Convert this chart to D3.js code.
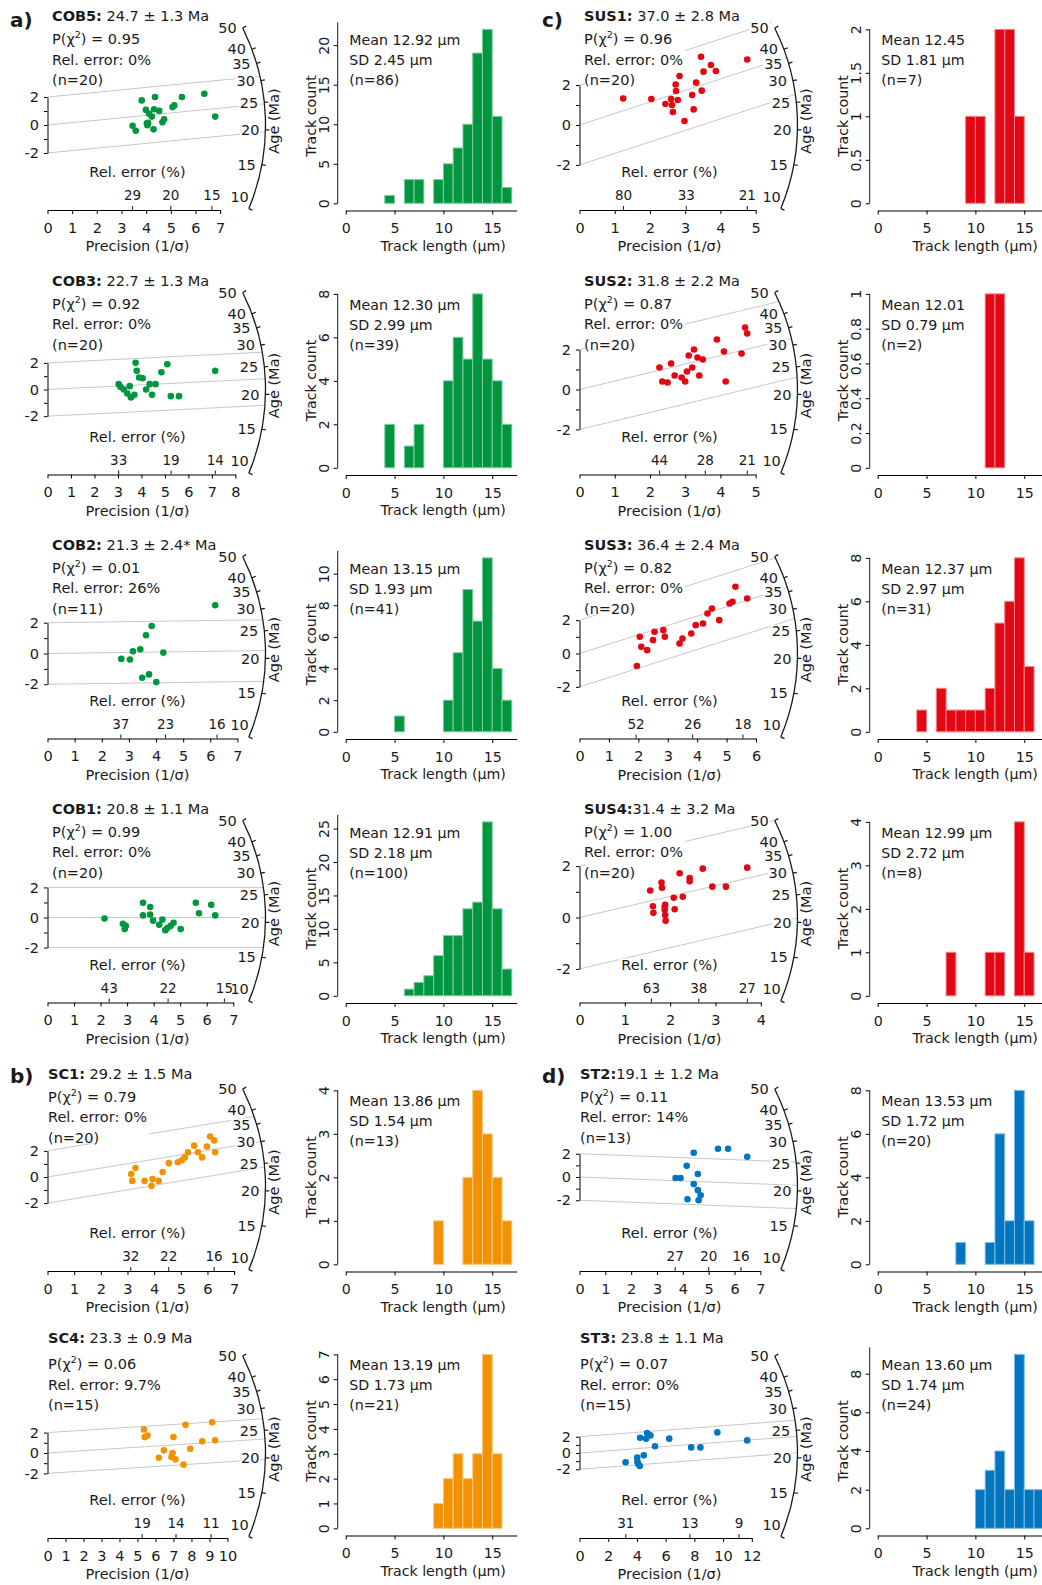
<!DOCTYPE html>
<html>
<head>
<meta charset="utf-8">
<script src="https://cdn.jsdelivr.net/npm/d3@7"></script>
<style>
  body { margin: 0; background: #fff; }
  svg text { font-family: "DejaVu Sans", sans-serif; fill: #1a1a1a; }
</style>
</head>
<body>
<svg id="chart" width="1042" height="1585"></svg>
<script>
// ---------------- data ----------------
var sampleNames = ["COB5", "COB3", "COB2", "COB1", "SC1", "SC4", "SUS1", "SUS2", "SUS3", "SUS4", "ST2", "ST3"];
var ageLabels = [" 24.7 ± 1.3 Ma", " 22.7 ± 1.3 Ma", " 21.3 ± 2.4* Ma", " 20.8 ± 1.1 Ma", " 29.2 ± 1.5 Ma", " 23.3 ± 0.9 Ma",
                 " 37.0 ± 2.8 Ma", " 31.8 ± 2.2 Ma", " 36.4 ± 2.4 Ma", "31.4 ± 3.2 Ma", "19.1 ± 1.2 Ma", " 23.8 ± 1.1 Ma"];
var centralAges = [24.7, 22.7, 21.3, 20.8, 29.2, 23.3, 37.0, 31.8, 36.4, 31.4, 19.1, 23.8];
var pChi2 = ["0.95", "0.92", "0.01", "0.99", "0.79", "0.06", "0.96", "0.87", "0.82", "1.00", "0.11", "0.07"];
var relErrors = ["0%", "0%", "26%", "0%", "0%", "9.7%", "0%", "0%", "0%", "0%", "14%", "0%"];
var grainCounts = [20, 20, 11, 20, 20, 15, 20, 20, 20, 20, 13, 15];
var relErrorTicks = [[29, 20, 15], [33, 19, 14], [37, 23, 16], [43, 22, 15], [32, 22, 16], [19, 14, 11],
                     [80, 33, 21], [44, 28, 21], [52, 26, 18], [63, 38, 27], [27, 20, 16], [31, 13, 9]];
var precisionMax = [7, 8, 7, 7, 7, 10, 5, 5, 6, 4, 7, 12];
var precisionStep = [1, 1, 1, 1, 1, 1, 1, 1, 1, 1, 1, 2];
var ageTicks = [10, 15, 20, 25, 30, 35, 40, 50];

// radial plot points: [precision (1/sigma), standardised estimate]
var pointsCOB5 = [[3.45,-0.05],[3.58,-0.41],[3.82,1.76],[3.99,1.08],[4.03,0.12],[4.05,-0.02],[4.12,0.80],[4.23,0.60],
  [4.30,-0.31],[4.32,1.13],[4.36,2.0],[4.53,1.01],[4.66,0.19],[4.73,0.41],[5.07,1.28],[5.14,1.40],[5.45,2.0],
  [6.36,2.24],[6.80,0.60],[4.08,0.15]];
var pointsCOB3 = [[3.03,0.4],[3.1,0.2],[3.25,0.0],[3.4,-0.3],[3.5,0.25],[3.55,-0.6],[3.7,-0.4],[3.75,2.0],[3.8,1.4],
  [3.9,0.9],[4.05,0.85],[4.2,0.0],[4.35,0.4],[4.45,-0.4],[4.6,0.4],[4.85,1.3],[5.1,1.9],[5.25,-0.5],[5.6,-0.5],[7.14,1.4]];
var pointsCOB2 = [[2.72,-0.35],[3.04,-0.39],[3.15,0.15],[3.42,0.28],[3.49,-1.58],[3.63,1.19],[3.74,-1.36],[3.84,1.79],
  [4.01,-1.86],[4.27,0.06],[6.18,3.14]];
var pointsCOB1 = [[2.15,-0.07],[2.84,-0.42],[2.91,-0.77],[2.95,-0.56],[3.6,0.98],[3.6,0.14],[3.87,0.7],[3.98,-0.21],
  [4.21,-0.49],[4.33,-0.14],[4.44,-0.84],[4.64,-0.56],[4.75,-0.35],[5.02,-0.77],[5.59,0.98],[5.71,0.28],[6.17,0.84],
  [6.32,0.14],[3.87,0.2],[4.52,-0.7]];
var pointsSC1 = [[3.14,0.23],[3.18,-0.3],[3.3,0.68],[3.64,-0.3],[3.9,-0.68],[3.94,-0.15],[4.17,-0.3],[4.32,0.38],
  [4.55,1.06],[4.89,1.13],[5.04,1.28],[5.15,1.5],[5.27,1.9],[5.5,2.4],[5.64,1.9],[5.8,1.5],[5.98,2.34],[6.1,3.1],
  [6.25,2.8],[6.29,1.9]];
var pointsSC4 = [[5.36,2.31],[5.40,1.56],[5.56,1.72],[6.19,-0.46],[6.47,0.26],[6.89,-0.39],[6.95,0.0],[7.00,1.56],
  [7.11,-0.62],[7.56,-1.14],[7.67,2.76],[7.93,0.42],[8.60,1.14],[9.15,3.02],[9.32,1.24]];
var pointsSUS1 = [[1.24,1.33],[2.04,1.30],[2.44,1.05],[2.60,1.30],[2.63,1.0],[2.65,0.65],[2.73,2.03],[2.74,1.70],
  [2.79,1.25],[2.84,2.45],[2.98,0.20],[3.20,1.50],[3.24,0.78],[3.31,2.12],[3.45,3.42],[3.47,1.72],[3.52,2.67],
  [3.73,3.0],[3.87,2.70],[4.76,3.28]];
var pointsSUS2 = [[2.27,1.1],[2.35,0.4],[2.5,0.35],[2.6,1.3],[2.7,0.7],[2.9,0.6],[3.0,0.4],[3.05,0.9],[3.1,1.7],
  [3.2,1.1],[3.25,2.0],[3.35,1.6],[3.4,0.7],[3.5,1.5],[3.9,2.5],[4.1,1.9],[4.15,0.4],[4.6,1.8],[4.7,3.1],[4.76,2.8]];
var pointsSUS3 = [[1.95,-0.75],[2.1,0.4],[2.05,1.0],[2.3,0.2],[2.5,0.8],[2.55,1.3],[2.85,1.4],[2.9,1.0],[3.4,0.6],
  [3.5,0.9],[3.8,1.2],[3.95,1.7],[4.2,1.8],[4.35,2.4],[4.5,2.7],[4.75,2.0],[5.1,3.0],[5.3,4.0],[5.2,3.1],[5.7,3.3]];
var pointsSUS4 = [[1.56,1.05],[1.62,0.44],[1.63,0.18],[1.81,1.36],[1.82,1.16],[1.88,0.42],[1.88,0.30],[1.89,0.10],
  [1.90,-0.13],[1.89,0.49],[2.08,0.77],[2.10,0.32],[2.21,1.72],[2.28,0.81],[2.43,1.54],[2.43,1.41],[2.72,1.90],
  [2.93,1.20],[3.23,1.20],[3.70,1.94]];
var pointsST2 = [[4.42,2.09],[5.36,2.43],[5.75,2.43],[6.49,1.74],[4.15,0.96],[3.72,-0.09],[3.91,-0.09],[4.58,0.26],
  [4.42,-0.61],[4.58,-1.13],[4.69,-1.57],[4.18,-1.91],[4.61,-2.0]];
var pointsST3 = [[3.21,-1.14],[4.02,-0.57],[4.04,-1.10],[4.08,-1.31],[4.20,-1.59],[4.22,1.88],[4.48,-0.29],[4.64,1.76],
  [4.71,2.45],[4.94,2.16],[5.26,0.82],[6.25,1.76],[7.78,0.69],[8.42,0.69],[9.60,2.53],[11.68,1.55]];

// track length histograms: [bin start (um), count], 1 um bins
var histCOB5 = [[4,1],[6,3],[7,3],[9,3],[10,5],[11,7],[12,10],[13,19],[14,22],[15,11],[16,2]];
var histCOB3 = [[4,2],[6,1],[7,2],[10,4],[11,6],[12,5],[13,8],[14,5],[15,4],[16,2]];
var histCOB2 = [[5,1],[10,2],[11,5],[12,9],[13,7],[14,11],[15,4],[16,2]];
var histCOB1 = [[6,1],[7,2],[8,3],[9,6],[10,9],[11,9],[12,13],[13,14],[14,26],[15,13],[16,4]];
var histSC1 = [[9,1],[12,2],[13,4],[14,3],[15,2],[16,1]];
var histSC4 = [[9,1],[10,2],[11,3],[12,2],[13,3],[14,7],[15,3]];
var histSUS1 = [[9,1],[10,1],[12,2],[13,2],[14,1]];
var histSUS2 = [[11,1],[12,1]];
var histSUS3 = [[4,1],[6,2],[7,1],[8,1],[9,1],[10,1],[11,2],[12,5],[13,6],[14,8],[15,3]];
var histSUS4 = [[7,1],[11,1],[12,1],[14,4],[15,1]];
var histST2 = [[8,1],[11,1],[12,6],[13,2],[14,8],[15,2]];
var histST3 = [[10,2],[11,3],[12,4],[13,2],[14,9],[15,2],[16,2]];

var lengthMeans = ["12.92 µm", "12.30 µm", "13.15 µm", "12.91 µm", "13.86 µm", "13.19 µm",
                   "12.45", "12.01", "12.37 µm", "12.99 µm", "13.53 µm", "13.60 µm"];
var lengthSDs = ["2.45", "2.99", "1.93", "2.18", "1.54", "1.73", "1.81", "0.79", "2.97", "2.72", "1.72", "1.74"];
var trackCounts = [86, 39, 41, 100, 13, 21, 7, 2, 31, 8, 20, 24];
var countStep = [5, 2, 2, 5, 1, 1, 0.5, 0.2, 2, 1, 2, 2];
var showLengthTitle = [1, 1, 1, 1, 1, 1, 1, 0, 1, 1, 1, 1];

var radialPoints = [pointsCOB5, pointsCOB3, pointsCOB2, pointsCOB1, pointsSC1, pointsSC4,
                    pointsSUS1, pointsSUS2, pointsSUS3, pointsSUS4, pointsST2, pointsST3];
var lengthHists = [histCOB5, histCOB3, histCOB2, histCOB1, histSC1, histSC4,
                   histSUS1, histSUS2, histSUS3, histSUS4, histST2, histST3];

// ---------------- layout ----------------
var panelColumn = [0, 0, 0, 0, 0, 0, 1, 1, 1, 1, 1, 1];
var panelRow = [0, 1, 2, 3, 4, 5, 0, 1, 2, 3, 4, 5];
var columnX = [0, 532];
var rowY = [0, 264.5, 528.5, 792.5, 1061, 1325];
var rowArcShift = [0, 0, 0, 0, 0, 3];        // vertical shift of the radial body per row
var rowOriginShift = [0, 0, 0, 0, -9, 3];    // vertical shift of the radial origin per row
var rowTitleShift = [0, 0, 0, 0, -3.5, -3];
var rowStatsShift = [0, 0, 0, 0, -3.5, 0];
var panelAspect = [0.567, 0.567, 0.567, 0.567, 0.49, 0.567, 0.567, 0.567, 0.567, 0.567, 0.45, 0.567];
var groupColors = ["#009640", "#009640", "#009640", "#009640", "#f39200", "#f39200",
                   "#e30613", "#e30613", "#e30613", "#e30613", "#0076c0", "#0076c0"];
var panelLetters = [{t: "a)", col: 0, row: 0, dy: 0}, {t: "b)", col: 0, row: 4, dy: -5},
                    {t: "c)", col: 1, row: 0, dy: 0}, {t: "d)", col: 1, row: 4, dy: -5}];

var Z0 = Math.log(20.8);   // reference log-age of the radial scale
var R = 218;               // arc radius (px)
var OX = 47.5, CY = 125, AXY = 210;
var FS = 14.5;

var svg = d3.select("#chart");
svg.append("rect").attr("width", 1042).attr("height", 1585).attr("fill", "#fff");

function textBox(g, node, padX, top, bottom) {
    var bb = node.getBBox();
    g.insert("rect", function() { return node; })
        .attr("x", bb.x - padX).attr("y", bb.y + top)
        .attr("width", bb.width + 2 * padX).attr("height", bb.height - top - bottom)
        .attr("fill", "#fff");
}

// x (data) where the line y = b + m x meets the age arc
function lineEnd(b, m, kx, ky, d) {
    var e = d - ky * b, f = -ky * m;
    var A = kx * kx + f * f, B = 2 * e * f, Cc = e * e - R * R;
    return (-B + Math.sqrt(B * B - 4 * A * Cc)) / (2 * A);
}

function drawRadial(g, i) {
    var pts = radialPoints[i];
    var color = groupColors[i];
    var row = panelRow[i];
    var cy = CY + rowArcShift[row];
    var oy = CY + rowOriginShift[row];
    var aspect = panelAspect[i];
    var xLim = 1.3 * d3.max(pts, function(d) { return d[0]; });
    var kx = R / xLim, ky = aspect * kx;
    var x = d3.scaleLinear().domain([0, xLim]).range([OX, OX + R]);
    var y = d3.scaleLinear().domain([0, 1]).range([oy, oy - ky]);
    var m = Math.log(centralAges[i]) - Z0;

    // central line and +-2 band
    [-2, 0, 2].forEach(function(b) {
        var xe = lineEnd(b, m, kx, ky, oy - cy);
        g.append("line")
            .attr("x1", x(0)).attr("y1", y(b))
            .attr("x2", x(xe)).attr("y2", y(b + m * xe))
            .attr("stroke", "#c8c8c8").attr("stroke-width", 1);
    });

    // title
    var tx = row >= 4 ? 48 : 52;
    var title = g.append("text").attr("x", tx).attr("y", 21 + rowTitleShift[row]).attr("font-size", FS);
    title.append("tspan").attr("font-weight", "bold").text(sampleNames[i] + ":");
    title.append("tspan").text(ageLabels[i]);

    // stats block on white background
    var s0 = rowStatsShift[row];
    var sg = g.append("g");
    var t1 = sg.append("text").attr("x", tx).attr("y", 44 + s0).attr("font-size", FS);
    t1.append("tspan").text("P(χ");
    t1.append("tspan").attr("font-size", 9.5).attr("dy", -6).text("2");
    t1.append("tspan").attr("dy", 6).text(") = " + pChi2[i]);
    sg.append("text").attr("x", tx).attr("y", 64.5 + s0).attr("font-size", FS).text("Rel. error: " + relErrors[i]);
    sg.append("text").attr("x", tx).attr("y", 85 + s0).attr("font-size", FS).text("(n=" + grainCounts[i] + ")");
    var bb = sg.node().getBBox();
    sg.insert("rect", "text").attr("x", bb.x + 1).attr("y", 30 + s0).attr("width", bb.width + 1)
        .attr("height", 56).attr("fill", "#fff");

    // arc with age ticks (log-age scale, pixel aspect gives the angle)
    var ang = function(t) { return Math.atan(0.567 * (Math.log(t) - Z0)); };
    var tMin = d3.min(ageTicks);
    var p = d3.path();
    p.arc(OX, cy, R, -ang(d3.max(ageTicks)), -ang(tMin), false);
    g.append("path").attr("d", p.toString()).attr("fill", "none").attr("stroke", "#1a1a1a").attr("stroke-width", 1.3);
    ageTicks.forEach(function(t) {
        var a = ang(t), ca = Math.cos(a), sa = Math.sin(a);
        g.append("line")
            .attr("x1", OX + R * ca).attr("y1", cy - R * sa)
            .attr("x2", OX + (R + 4) * ca).attr("y2", cy - (R + 4) * sa)
            .attr("stroke", "#1a1a1a").attr("stroke-width", 1.2);
        var lab = g.append("text").attr("x", OX + R * ca - (t === tMin ? 0 : 6))
            .attr("y", cy - R * sa - (t === tMin ? 12 : 0)).attr("dy", "0.36em")
            .attr("text-anchor", "end").attr("font-size", FS).text(t);
        textBox(g, lab.node(), 1, 2, 3);
    });
    g.append("text").attr("transform", "translate(279," + (cy - 4) + ") rotate(-90)")
        .attr("text-anchor", "middle").attr("font-size", FS).text("Age (Ma)");

    // y axis (standardised estimate)
    var ys = d3.scaleLinear().domain([-2, 2]).range([y(-2), y(2)]);
    var yAx = g.append("g").attr("transform", "translate(" + OX + ",0)")
        .call(d3.axisLeft(ys).tickValues([-2, -1, 0, 1, 2]).tickSize(3.5).tickSizeOuter(0).tickPadding(5)
            .tickFormat(function(d) { return d % 2 === 0 ? String(d) : ""; }));
    yAx.attr("font-size", FS).attr("font-family", null);

    // x axis (precision)
    var axy = AXY + rowArcShift[row];
    var pmax = precisionMax[i];
    var xs = d3.scaleLinear().domain([0, pmax]).range([x(0), x(pmax)]);
    var xAx = g.append("g").attr("transform", "translate(0," + axy + ")")
        .call(d3.axisBottom(xs).tickValues(d3.range(0, pmax + 1e-9, precisionStep[i])).tickSize(4)
            .tickSizeOuter(0).tickPadding(8.5).tickFormat(d3.format("d")));
    xAx.attr("font-size", FS).attr("font-family", null);

    // relative error scale
    var relLab = g.append("text").attr("x", 137.5).attr("y", 177 + rowArcShift[row]).attr("text-anchor", "middle")
        .attr("font-size", FS).text("Rel. error (%)");
    textBox(g, relLab.node(), 2, 2, 3);
    relErrorTicks[i].forEach(function(v) {
        var px = x(100 / v);
        g.append("line").attr("x1", px).attr("x2", px).attr("y1", axy).attr("y2", axy - 4)
            .attr("stroke", "#1a1a1a");
        g.append("text").attr("x", px).attr("y", 200 + rowArcShift[row]).attr("text-anchor", "middle")
            .attr("font-size", 13.5).text(v);
    });
    g.append("text").attr("x", 137.5).attr("y", 251 + rowArcShift[row]).attr("text-anchor", "middle")
        .attr("font-size", FS).text("Precision (1/σ)");

    // grains
    g.append("g").selectAll("circle").data(pts).enter().append("circle")
        .attr("cx", function(d) { return x(d[0]); })
        .attr("cy", function(d) { return y(d[1]); })
        .attr("r", 3.3)
        .attr("fill", color);
}

function drawHist(g, i) {
    var bins = lengthHists[i];
    var color = groupColors[i];
    var HX0 = 345.7, Y0 = 203.3, HX = 337.7, FH = 14.2;
    var x = d3.scaleLinear().domain([0, 17.5]).range([HX0, HX0 + 17.5 * 9.77]);
    var maxC = d3.max(bins, function(d) { return d[1]; });
    var top = 1.04 * maxC;
    var y = d3.scaleLinear().domain([0, top]).range([Y0, Y0 - 180.9]);

    g.append("g").selectAll("rect").data(bins).enter().append("rect")
        .attr("x", function(d) { return x(d[0]); })
        .attr("width", function(d) { return x(d[0] + 1) - x(d[0]); })
        .attr("y", function(d) { return y(d[1]); })
        .attr("height", function(d) { return y(0) - y(d[1]); })
        .attr("fill", color)
        .attr("stroke", d3.interpolateRgb(color, "#fff")(0.5))
        .attr("stroke-width", 1);

    var ticks = d3.range(0, top + 1e-9, countStep[i]).map(function(v) { return +v.toFixed(2); });
    var lastTick = ticks[ticks.length - 1];
    var yAx = g.append("g").attr("transform", "translate(" + HX + ",0)")
        .call(d3.axisLeft(y).tickValues(ticks).tickSize(4).tickSizeOuter(0).tickFormat(d3.format("~g")));
    yAx.attr("font-size", FH).attr("font-family", null);
    yAx.select(".domain").remove();
    yAx.selectAll("text").attr("transform", "rotate(-90)").attr("x", 0).attr("y", -8.7)
        .attr("dy", null).attr("text-anchor", "middle");
    g.append("line").attr("x1", HX).attr("x2", HX).attr("y1", y(0))
        .attr("y2", y(lastTick >= maxC ? lastTick : top)).attr("stroke", "#1a1a1a");

    var xAx = g.append("g").attr("transform", "translate(0,210.5)")
        .call(d3.axisBottom(x).tickValues([0, 5, 10, 15]).tickSize(4).tickSizeOuter(0).tickPadding(8.5));
    xAx.attr("font-size", FH).attr("font-family", null);

    g.append("text").attr("transform", "translate(316,116) rotate(-90)").attr("text-anchor", "middle")
        .attr("font-size", FH).text("Track count");
    if (showLengthTitle[i]) {
        g.append("text").attr("x", HX0 + 97.5).attr("y", 250.7).attr("text-anchor", "middle")
            .attr("font-size", FH).text("Track length (µm)");
    }
    g.append("text").attr("x", 349.3).attr("y", 45).attr("font-size", FH).text("Mean " + lengthMeans[i]);
    g.append("text").attr("x", 349.3).attr("y", 65).attr("font-size", FH).text("SD " + lengthSDs[i] + " µm");
    g.append("text").attr("x", 349.3).attr("y", 85).attr("font-size", FH).text("(n=" + trackCounts[i] + ")");
}

sampleNames.forEach(function(name, i) {
    var g = svg.append("g")
        .attr("transform", "translate(" + columnX[panelColumn[i]] + "," + rowY[panelRow[i]] + ")");
    drawRadial(g, i);
    drawHist(g, i);
});

panelLetters.forEach(function(l) {
    svg.append("text").attr("x", columnX[l.col] + 10).attr("y", rowY[l.row] + 27 + l.dy)
        .attr("font-size", 20).attr("font-weight", "bold").text(l.t);
});
</script>
</body>
</html>
